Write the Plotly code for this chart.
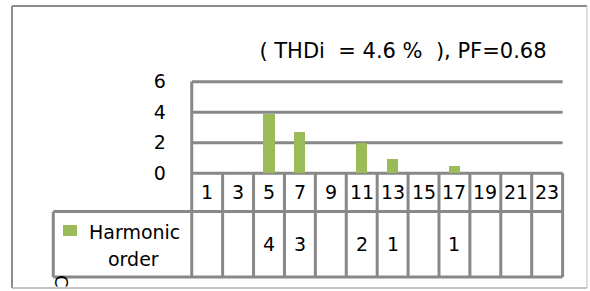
import math
import plotly.graph_objects as go

# ---------------- data ----------------
harmonic_orders = ["1", "3", "5", "7", "9", "11", "13", "15", "17", "19", "21", "23"]
current_pct = [None, None, 3.9, 2.7, None, 2.0, 0.9, None, 0.5, None, None, None]
y_ticks = [0, 2, 4, 6]
series_name = ["Harmonic", "order"]
title_text = "(\u00a0THDi\u00a0\u00a0=\u00a04.6\u00a0%\u00a0\u00a0),\u00a0PF=0.68"

# ---------------- layout constants ----------------
W, H = 590, 291
ML, MR, MT, MB = 50, 24, 80, 12
X_RANGE = [-5.086, 11.61]
Y_RANGE = [-6.94, 6.11]
HEADER_BOTTOM = -2.52
TABLE_BOTTOM = -6.81
LEGEND_LEFT = -4.98
GREEN = "#9BBB59"
GRID = "#888888"
LW = 3
FONT = "DejaVu Sans"

n = len(harmonic_orders)
xs = list(range(n))
left_edge = -0.5
right_edge = n - 0.5


def px_x(px):
    return (px - ML) / (W - ML - MR)


def px_y(py):
    return (H - MB - py) / (H - MT - MB)


def round_half_up(v):
    return int(math.floor(v + 0.5))


fig = go.Figure()
fig.add_trace(go.Bar(
    x=xs, y=current_pct, width=0.36, marker=dict(color=GREEN, line=dict(width=0)),
    showlegend=False, hoverinfo="skip",
))

shapes = []
for t in y_ticks:
    shapes.append(dict(type="line", xref="x", yref="y", x0=left_edge, x1=right_edge,
                       y0=t, y1=t, line=dict(color=GRID, width=LW), layer="below"))
shapes.append(dict(type="line", xref="x", yref="y", x0=left_edge, x1=left_edge,
                   y0=max(y_ticks), y1=TABLE_BOTTOM, line=dict(color=GRID, width=LW)))
for i in range(1, n + 1):
    xv = i - 0.5
    shapes.append(dict(type="line", xref="x", yref="y", x0=xv, x1=xv,
                       y0=0, y1=TABLE_BOTTOM, line=dict(color=GRID, width=LW)))
shapes.append(dict(type="line", xref="x", yref="y", x0=LEGEND_LEFT, x1=right_edge,
                   y0=HEADER_BOTTOM, y1=HEADER_BOTTOM, line=dict(color=GRID, width=LW)))
shapes.append(dict(type="line", xref="x", yref="y", x0=LEGEND_LEFT, x1=right_edge,
                   y0=TABLE_BOTTOM, y1=TABLE_BOTTOM, line=dict(color=GRID, width=LW)))
shapes.append(dict(type="line", xref="x", yref="y", x0=LEGEND_LEFT, x1=LEGEND_LEFT,
                   y0=HEADER_BOTTOM, y1=TABLE_BOTTOM, line=dict(color=GRID, width=LW)))
# legend key
shapes.append(dict(type="rect", xref="paper", yref="paper",
                   x0=px_x(63), x1=px_x(77), y0=px_y(236), y1=px_y(225),
                   line=dict(width=0), fillcolor=GREEN))
# outer chart border
shapes.append(dict(type="line", xref="paper", yref="paper", x0=px_x(12), x1=px_x(587),
                   y0=px_y(6), y1=px_y(6), line=dict(color="#8c8c8c", width=2)))
shapes.append(dict(type="line", xref="paper", yref="paper", x0=px_x(12), x1=px_x(12),
                   y0=px_y(6), y1=px_y(288), line=dict(color="#8c8c8c", width=2)))
shapes.append(dict(type="line", xref="paper", yref="paper", x0=px_x(587), x1=px_x(587),
                   y0=px_y(6), y1=px_y(288), line=dict(color="#d0d0d0", width=1.5)))
shapes.append(dict(type="line", xref="paper", yref="paper", x0=px_x(12), x1=px_x(587),
                   y0=px_y(288), y1=px_y(288), line=dict(color="#b0b0b0", width=1.5)))

annotations = []
header_mid = HEADER_BOTTOM / 2
row_mid = (HEADER_BOTTOM + TABLE_BOTTOM) / 2
txt_font = dict(family=FONT, size=19, color="black")
for i, lab in enumerate(harmonic_orders):
    annotations.append(dict(x=i, y=header_mid, xref="x", yref="y", text=lab, showarrow=False,
                            xanchor="center", yanchor="middle", font=txt_font))
    v = current_pct[i]
    if v is not None:
        annotations.append(dict(x=i, y=row_mid, xref="x", yref="y", text=str(round_half_up(v)),
                                showarrow=False, xanchor="center", yanchor="middle", font=txt_font))
annotations.append(dict(x=px_x(134), y=px_y(231.5), xref="paper", yref="paper", text=series_name[0],
                        showarrow=False, xanchor="center", yanchor="middle",
                        font=dict(family=FONT, size=19, color="black")))
annotations.append(dict(x=px_x(133), y=px_y(259), xref="paper", yref="paper", text=series_name[1],
                        showarrow=False, xanchor="center", yanchor="middle",
                        font=dict(family=FONT, size=19, color="black")))
annotations.append(dict(x=px_x(62), y=px_y(281), xref="paper", yref="paper", text="C",
                        textangle=90, showarrow=False, xanchor="center", yanchor="middle",
                        font=dict(family=FONT, size=18, color="black")))

fig.update_layout(
    width=W, height=H,
    margin=dict(l=ML, r=MR, t=MT, b=MB, pad=0),
    paper_bgcolor="white", plot_bgcolor="white",
    title=dict(text=title_text, xref="container", yref="container", x=403 / W, y=1 - 51 / H,
               xanchor="center", yanchor="middle",
               font=dict(family=FONT, size=21, color="black")),
    xaxis=dict(range=X_RANGE, visible=False, fixedrange=True),
    yaxis=dict(range=Y_RANGE, anchor="free",
               position=(left_edge - X_RANGE[0]) / (X_RANGE[1] - X_RANGE[0]),
               tickvals=y_ticks, ticktext=[str(t) for t in y_ticks],
               showgrid=False, zeroline=False, showline=False, ticks="",
               ticklabelstandoff=26, fixedrange=True,
               tickfont=dict(family=FONT, size=19, color="black")),
    shapes=shapes, annotations=annotations,
    showlegend=False, bargap=0,
)

fig.write_html("out.html", config={"displayModeBar": False},
               post_script="document.body.style.margin='0';")
